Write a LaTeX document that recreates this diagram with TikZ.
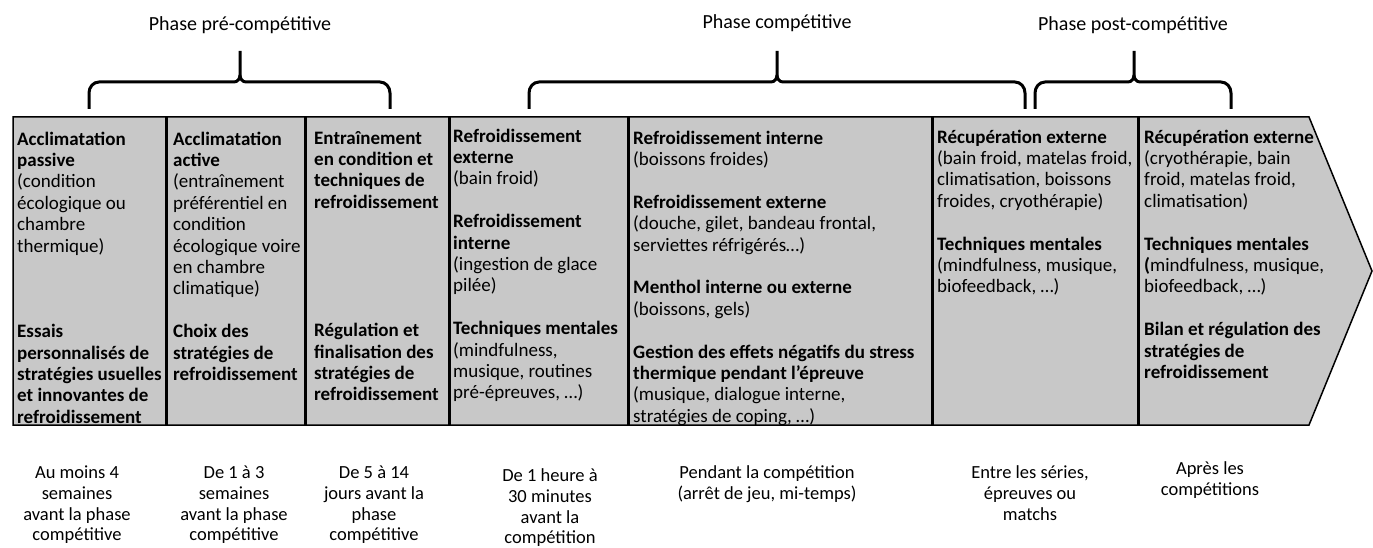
\documentclass[tikz,border=0pt]{standalone}
\usepackage{fontspec}
\setmainfont{Carlito}
\usepackage{tikz}
\definecolor{bandgray}{RGB}{200,200,200}
\tikzset{
	coltext/.style = {align=left, inner sep=0pt, anchor=north west, font=\fontsize{19}{21.4}\selectfont},
	timetext/.style = {align=center, inner sep=0pt, anchor=north, font=\fontsize{18.5}{20.7}\selectfont},
	phasetext/.style = {inner sep=0pt, font=\fontsize{20}{24}\selectfont},
	band/.style = {fill=bandgray, draw=black, line width=1.5pt, line join=miter},
	divider/.style = {line width=3pt},
	bracket/.style = {line width=3pt}
}
\newcommand{\phasebrace}[3]{%
	\draw[bracket] (#1,109) -- (#1,93) to[out=90,in=180] (#1+10,82) -- (#2-6,82) to[out=0,in=-90] (#2,75) -- (#2,51);
	\draw[bracket] (#3,109) -- (#3,93) to[out=90,in=0] (#3-10,82) -- (#2+6,82) to[out=180,in=-90] (#2,75);
}

\begin{document}
\begin{tikzpicture}[x=1pt, y=-1pt]
	\useasboundingbox (0,0) rectangle (1373,548);
	\draw[band] (13,117) -- (1309,117) -- (1372,271) -- (1309,425) -- (13,425) -- cycle;
	\foreach \x in {166,305,449,628,932,1138}
		\draw[divider] (\x,117) -- (\x,425);

	\node[phasetext] (prephase) at (240,25) {Phase pré-compétitive};
	\node[phasetext] (compphase) at (777,23) {Phase compétitive};
	\node[phasetext] (postphase) at (1133,25) {Phase post-compétitive};
	\phasebrace{89}{240}{390}
	\phasebrace{529}{777}{1025}
	\phasebrace{1035}{1134}{1231}

	\node[coltext] (passive) at (17,130) {\strut\textbf{Acclimatation}\\ \textbf{passive}\\ (condition\\ écologique ou\\ chambre\\ thermique)\\[3\baselineskip]
		\textbf{Essais}\\ \textbf{personnalisés de}\\ \textbf{stratégies usuelles}\\ \textbf{et innovantes de}\\ \textbf{refroidissement}};
	\node[coltext] (active) at (173,130) {\strut\textbf{Acclimatation}\\ \textbf{active}\\ (entraînement\\ préférentiel en\\ condition\\ écologique voire\\ en chambre\\ climatique)\\[\baselineskip]
		\textbf{Choix des}\\ \textbf{stratégies de}\\ \textbf{refroidissement}};
	\node[coltext] (training) at (314,129) {\strut\textbf{Entraînement}\\ \textbf{en condition et}\\ \textbf{techniques de}\\ \textbf{refroidissement}\\[5\baselineskip]
		\textbf{Régulation et}\\ \textbf{finalisation des}\\ \textbf{stratégies de}\\ \textbf{refroidissement}};
	\node[coltext] (before) at (453,127) {\strut\textbf{Refroidissement}\\ \textbf{externe}\\ (bain froid)\\[\baselineskip]
		\textbf{Refroidissement}\\ \textbf{interne}\\ (ingestion de glace\\ pilée)\\[\baselineskip]
		\textbf{Techniques mentales}\\ (mindfulness,\\ musique, routines\\ pré-épreuves, …)};
	\node[coltext] (during) at (633,129) {\strut\textbf{Refroidissement interne}\\ (boissons froides)\\[\baselineskip]
		\textbf{Refroidissement externe}\\ (douche, gilet, bandeau frontal,\\ serviettes réfrigérés…)\\[\baselineskip]
		\textbf{Menthol interne ou externe}\\ (boissons, gels)\\[\baselineskip]
		\textbf{Gestion des effets négatifs du stress}\\ \textbf{thermique pendant l’épreuve}\\ (musique, dialogue interne,\\ stratégies de coping, …)};
	\node[coltext] (between) at (937,128) {\strut\textbf{Récupération externe}\\ (bain froid, matelas froid,\\ climatisation, boissons\\ froides, cryothérapie)\\[\baselineskip]
		\textbf{Techniques mentales}\\ (mindfulness, musique,\\ biofeedback, …)};
	\node[coltext] (after) at (1144,128) {\strut\textbf{Récupération externe}\\ (cryothérapie, bain\\ froid, matelas froid,\\ climatisation)\\[\baselineskip]
		\textbf{Techniques mentales}\\ \textbf{(}mindfulness, musique,\\ biofeedback, …)\\[\baselineskip]
		\textbf{Bilan et régulation des}\\ \textbf{stratégies de}\\ \textbf{refroidissement}};

	\node[timetext] (t1) at (77,464) {\strut Au moins 4\\ semaines\\ avant la phase\\ compétitive};
	\node[timetext] (t2) at (234,464) {\strut De 1 à 3\\ semaines\\ avant la phase\\ compétitive};
	\node[timetext] (t3) at (374,464) {\strut De 5 à 14\\ jours avant la\\ phase\\ compétitive};
	\node[timetext] (t4) at (550,467) {\strut De 1 heure à\\ 30 minutes\\ avant la\\ compétition};
	\node[timetext] (t5) at (767,464) {\strut Pendant la compétition\\ (arrêt de jeu, mi-temps)};
	\node[timetext] (t6) at (1030,464) {\strut Entre les séries,\\ épreuves ou\\ matchs};
	\node[timetext] (t7) at (1210,460) {\strut Après les\\ compétitions};
\end{tikzpicture}
\end{document}
